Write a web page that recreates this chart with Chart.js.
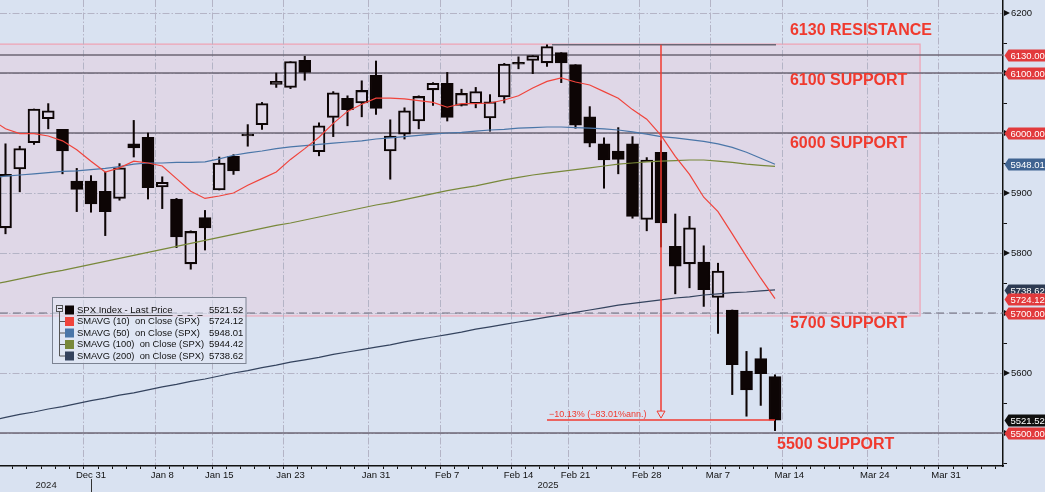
<!DOCTYPE html>
<html>
<head>
<meta charset="utf-8">
<script src="https://cdn.jsdelivr.net/npm/chart.js@4.4.1/dist/chart.umd.min.js"></script>
<style>
    html, body { margin: 0; padding: 0; background: #d9e2f1; overflow: hidden; }
    #wrap { width: 1045px; height: 492px; position: relative; }
</style>
</head>
<body>
<div id="wrap"><canvas id="chart-spx"></canvas></div>
<script>
// SPX daily candles + moving averages (Dec 19 sits just off the left edge)
const DAYS = [
    "Dec 19", "Dec 20", "Dec 23", "Dec 24", "Dec 26", "Dec 27", "Dec 30", "Dec 31",
    "Jan 2", "Jan 3", "Jan 6", "Jan 7", "Jan 8", "Jan 10", "Jan 13", "Jan 14", "Jan 15",
    "Jan 16", "Jan 17", "Jan 21", "Jan 22", "Jan 23", "Jan 24", "Jan 27", "Jan 28",
    "Jan 29", "Jan 30", "Jan 31", "Feb 3", "Feb 4", "Feb 5", "Feb 6", "Feb 7", "Feb 10",
    "Feb 11", "Feb 12", "Feb 13", "Feb 14", "Feb 18", "Feb 19", "Feb 20", "Feb 21",
    "Feb 24", "Feb 25", "Feb 26", "Feb 27", "Feb 28", "Mar 3", "Mar 4", "Mar 5", "Mar 6",
    "Mar 7", "Mar 10", "Mar 11", "Mar 12", "Mar 13", "Mar 14", "Mar 17", "Mar 18",
    "Mar 19", "Mar 20", "Mar 21", "Mar 24", "Mar 25", "Mar 26", "Mar 27", "Mar 28",
    "Mar 31", "Apr 1", "Apr 2", "Apr 3", "Apr 4",
];

const OPEN = [
    5912, 5842, 5940, 5984, 6024, 6006, 5920, 5920, 5903, 5891, 5982, 5993, 5910, 5890,
    5782, 5859, 5905, 5961, 5995, 6014, 6081, 6076, 6121, 5969, 6026, 6058, 6050, 6096,
    5970, 5998, 6020, 6072, 6083, 6046, 6049, 6025, 6060, 6115.5, 6121, 6117, 6134, 6114,
    6027, 5982, 5970, 5982, 5856, 5968, 5811, 5782, 5785, 5726, 5705, 5603, 5624, 5594,
];
const HIGH = [
    5935, 5982, 5978, 6040, 6049, 6006, 5941, 5929, 5935, 5949, 6021, 6000, 5927, 5891,
    5837, 5871, 5960, 5964, 6014, 6051, 6100, 6119, 6128, 6017, 6069, 6062, 6087, 6120,
    6022, 6042, 6062, 6084, 6101, 6073, 6076, 6064, 6116, 6127, 6129, 6147, 6134, 6114,
    6044, 5992, 6009, 5994, 5959, 5987, 5865, 5861, 5812, 5783, 5705, 5636, 5642, 5597,
];
const LOW = [
    5866, 5832, 5902, 5981, 6007, 5932, 5869, 5868, 5829, 5888, 5960, 5890, 5874, 5809,
    5773, 5805, 5905, 5931, 5978, 6006, 6076, 6074, 6088, 5962, 5994, 6012, 6027, 6031,
    5923, 5990, 6007, 6046, 6020, 6045, 6042, 6003, 6050, 6107, 6099, 6111, 6084, 6008,
    5977, 5908, 5932, 5858, 5837, 5810, 5732, 5742, 5711, 5666, 5564, 5528, 5546, 5504,
];
const CLOSE = [
    5867, 5931, 5974, 6040, 6037, 5970, 5906, 5882, 5869, 5942, 5975, 5909, 5918, 5827,
    5836, 5842, 5950, 5937, 5997, 6049, 6086, 6119, 6101, 6012, 6067, 6039, 6071, 6041,
    5995, 6037, 6061, 6083, 6026, 6066, 6069, 6052, 6115, 6114.6, 6129, 6144, 6117, 6013,
    5983, 5955, 5956, 5861, 5955, 5850, 5778, 5842, 5739, 5770, 5614, 5572, 5599, 5521.52,
];

const SMA10 = [
    6023, 6007, 5999, 5999, 5995, 5987, 5972, 5953, 5935, 5942, 5953, 5950, 5945, 5924,
    5903, 5891, 5895, 5900, 5913, 5924, 5935, 5956, 5974, 5993, 6016, 6036, 6048, 6058,
    6058, 6057, 6054, 6051, 6043, 6049, 6049, 6050, 6055, 6062, 6075, 6086, 6092, 6085,
    6080, 6069, 6058, 6039, 6023, 5996, 5961, 5931, 5893, 5869, 5832, 5794, 5758, 5724.12,
];
const SMA50 = [
    5925, 5928, 5930, 5932, 5934, 5936, 5937, 5939, 5941, 5944, 5948, 5950, 5950, 5951,
    5951, 5952, 5957, 5963, 5967, 5970, 5974, 5977, 5979, 5981, 5983, 5985, 5987, 5990,
    5992, 5994, 5996, 5998, 6000, 6001, 6003, 6005, 6006, 6008, 6009, 6010, 6010, 6009,
    6008, 6007, 6005, 6002, 5998, 5994, 5992, 5989, 5986, 5982, 5976, 5968, 5958, 5948.01,
];
const SMA100 = [
    5747, 5752, 5757, 5762, 5767, 5771, 5776, 5781, 5786, 5791, 5796, 5801, 5806, 5811,
    5816, 5821, 5826, 5831, 5836, 5841, 5846, 5850, 5855, 5860, 5865, 5870, 5875, 5880,
    5884, 5889, 5894, 5899, 5904, 5908, 5912, 5917, 5922, 5926, 5930, 5933, 5936, 5939,
    5942, 5945, 5948, 5950, 5952, 5953, 5954, 5955, 5955, 5953, 5951, 5948, 5946, 5944.42,
];
const SMA200 = [
    5521, 5526, 5531, 5535, 5540, 5544, 5549, 5554, 5558, 5563, 5567, 5572, 5577, 5581,
    5586, 5590, 5595, 5600, 5604, 5609, 5613, 5618, 5622, 5626, 5631, 5635, 5639, 5643,
    5647, 5652, 5656, 5660, 5664, 5668, 5673, 5677, 5681, 5685, 5689, 5693, 5697, 5701,
    5705, 5709, 5713, 5716, 5719, 5722, 5725, 5727, 5730, 5732, 5734, 5735, 5737, 5738.62,
];

const X_LABELS = ["Dec 31", "Jan 8", "Jan 15", "Jan 23", "Jan 31", "Feb 7", "Feb 14",
    "Feb 21", "Feb 28", "Mar 7", "Mar 14", "Mar 24", "Mar 31"];
const X_GRID = ["Dec 20"].concat(X_LABELS);

const LEVELS = [6130, 6100, 6000, 5500];
const DASHED_LEVEL = 5700;
const ZONE = [5695, 6148];
const NOTES = ["6130 RESISTANCE", "6100 SUPPORT", "6000 SUPPORT", "5700 SUPPORT", "5500 SUPPORT"];
const NOTE_VALUES = [6170, 6088, 5982, 5683, 5480];
const MOVE_TEXT = "\u221210.13% (\u221283.01%ann.)";

const BLACK = "#0d0505";
const RED = "#f0443c";
const BLUE = "#4a76a8";
const OLIVE = "#78883a";
const NAVY = "#34435e";
const NOTE_RED = "#f03a2e";
const FONT = "'Liberation Sans', Arial, sans-serif";

const last = a => a[a.length - 1];
const xy = arr => arr.map((v, i) => ({ x: i, y: v }));

const TAGS = [
    [6130, "#e23a3c"], [6100, "#e23a3c"], [6000, "#e23a3c"],
    [last(SMA50), "#3f6391"], [last(SMA200), "#2d3a52"], [last(SMA10), "#e23a3c"],
    [DASHED_LEVEL, "#e23a3c"], [last(CLOSE), "#101010"], [5500, "#e23a3c"],
];

const LEGEND_ROWS = [
    ["SPX Index - Last Price", last(CLOSE), BLACK],
    ["SMAVG (10)  on Close (SPX)", last(SMA10), RED],
    ["SMAVG (50)  on Close (SPX)", last(SMA50), BLUE],
    ["SMAVG (100)  on Close (SPX)", last(SMA100), OLIVE],
    ["SMAVG (200)  on Close (SPX)", last(SMA200), NAVY],
];

const bodies = CLOSE.map((c, i) => ({ x: i, y: [Math.min(OPEN[i], c), Math.max(OPEN[i], c)] }));
const upperWicks = CLOSE.map((c, i) => ({ x: i, y: [Math.max(OPEN[i], c), HIGH[i]] }));
const lowerWicks = CLOSE.map((c, i) => ({ x: i, y: [LOW[i], Math.min(OPEN[i], c)] }));
const bodyFill = CLOSE.map((c, i) => (c < OPEN[i] ? BLACK : "rgba(0,0,0,0)"));

function hLine(ctx, x1, x2, y, color, width, dash) {
    ctx.save();
    ctx.strokeStyle = color;
    ctx.lineWidth = width;
    ctx.setLineDash(dash || []);
    ctx.beginPath();
    ctx.moveTo(x1, y);
    ctx.lineTo(x2, y);
    ctx.stroke();
    ctx.restore();
}

const decor = {
    id: "decor",
    beforeDraw(chart) {
        const { ctx, chartArea: a, scales: { x, y } } = chart;
        ctx.save();
        ctx.fillStyle = "#d9e2f1";
        ctx.fillRect(0, 0, chart.width, chart.height);
        // pink zone
        const zr = x.getPixelForValue(65.18);
        const zt = y.getPixelForValue(ZONE[1]);
        const zb = y.getPixelForValue(ZONE[0]);
        ctx.fillStyle = "#dfd7e7";
        ctx.fillRect(a.left, zt, zr - a.left, zb - zt);
        ctx.strokeStyle = "#f0a2b4";
        ctx.lineWidth = 1.2;
        ctx.beginPath();
        ctx.moveTo(a.left, zt);
        ctx.lineTo(zr, zt);
        ctx.lineTo(zr, zb);
        ctx.lineTo(a.left, zb);
        ctx.stroke();
        ctx.restore();
    },
    beforeDatasetsDraw(chart) {
        const { ctx, chartArea: a, scales: { y } } = chart;
        LEVELS.forEach(v => hLine(ctx, a.left, a.right, y.getPixelForValue(v), "#6c6674", 1.5));
        hLine(ctx, a.left, a.right, y.getPixelForValue(DASHED_LEVEL), "#707080", 1.2, [8, 5]);
    },
    afterDatasetsDraw(chart) {
        const { ctx, scales: { x, y } } = chart;
        // -10% move measure
        const i1 = 39, i2 = CLOSE.length - 1;
        const xl = x.getPixelForValue(i1), xr = x.getPixelForValue(i2);
        const xm = x.getPixelForValue((i1 + i2) / 2);
        const yt = y.getPixelForValue(HIGH[i1]);
        const yb = y.getPixelForValue(last(CLOSE));
        hLine(ctx, xl + 5, xr + 1, yt, "#6c6674", 1.5);
        hLine(ctx, xl, xr, yb, "#f03a30", 1.5);
        ctx.save();
        ctx.strokeStyle = "#f03a30";
        ctx.lineWidth = 1.5;
        ctx.beginPath();
        ctx.moveTo(xm, yt);
        ctx.lineTo(xm, yb - 9);
        ctx.stroke();
        ctx.lineWidth = 1;
        ctx.beginPath();
        ctx.moveTo(xm - 4, yb - 9);
        ctx.lineTo(xm + 4, yb - 9);
        ctx.lineTo(xm, yb - 2);
        ctx.closePath();
        ctx.stroke();
        ctx.fillStyle = "#f03a30";
        ctx.font = "9px " + FONT;
        ctx.textBaseline = "bottom";
        ctx.fillText(MOVE_TEXT, xl + 2, yb - 1);
        // level notes
        ctx.fillStyle = NOTE_RED;
        ctx.font = "bold 16px " + FONT;
        ctx.textBaseline = "middle";
        NOTES.forEach((t, k) => {
            const xi = k === NOTES.length - 1 ? 55.14 : 56.05;
            ctx.fillText(t, x.getPixelForValue(xi), y.getPixelForValue(NOTE_VALUES[k]));
        });
        ctx.restore();
    },
    afterDraw(chart) {
        const { ctx, chartArea: a, scales: { x, y } } = chart;
        ctx.save();
        // arrows on the price axis
        ctx.fillStyle = "#111";
        y.ticks.forEach(t => {
            if (t.value % 100 !== 0) return;
            const py = y.getPixelForValue(t.value);
            ctx.beginPath();
            ctx.moveTo(a.right + 1, py - 3);
            ctx.lineTo(a.right + 7, py);
            ctx.lineTo(a.right + 1, py + 3);
            ctx.closePath();
            ctx.fill();
        });
        // value tags
        ctx.font = "9.5px " + FONT;
        ctx.textBaseline = "middle";
        TAGS.forEach(([v, col]) => {
            const py = Math.round(y.getPixelForValue(v)) + 0.5;
            const x0 = a.right + 1.5;
            ctx.fillStyle = col;
            ctx.beginPath();
            ctx.moveTo(x0, py);
            ctx.lineTo(x0 + 4, py - 6);
            ctx.lineTo(chart.width, py - 6);
            ctx.lineTo(chart.width, py + 6);
            ctx.lineTo(x0 + 4, py + 6);
            ctx.closePath();
            ctx.fill();
            ctx.fillStyle = "#ffffff";
            ctx.fillText(v.toFixed(2), x0 + 6, py + 0.5);
        });
        // year row
        ctx.fillStyle = "#222";
        ctx.textAlign = "center";
        ctx.textBaseline = "middle";
        ctx.fillText("2024", x.getPixelForValue(3.85), 485);
        ctx.fillText("2025", x.getPixelForValue(39.07), 485);
        ctx.strokeStyle = "#333";
        ctx.lineWidth = 1;
        const sx = Math.round(x.getPixelForValue(DAYS.indexOf("Dec 31"))) + 0.5;
        ctx.beginPath();
        ctx.moveTo(sx, 479);
        ctx.lineTo(sx, 492);
        ctx.stroke();
        // legend box
        ctx.textAlign = "left";
        ctx.fillStyle = "rgba(228,234,245,0.55)";
        ctx.fillRect(52.5, 297.5, 193.5, 66);
        ctx.strokeStyle = "#7c8392";
        ctx.strokeRect(52.5, 297.5, 193.5, 66);
        ctx.strokeStyle = "#555";
        ctx.strokeRect(56.5, 305.5, 6, 6);
        hLine(ctx, 58, 62, 308.5, "#333", 1);
        ctx.beginPath();
        ctx.moveTo(59.5, 312);
        ctx.lineTo(59.5, 356);
        ctx.stroke();
        ctx.font = "9.5px " + FONT;
        LEGEND_ROWS.forEach(([name, val, col], k) => {
            const ry = 310 + k * 11.5;
            if (k > 0) hLine(ctx, 59.5, 65, ry, "#555", 1);
            ctx.fillStyle = col;
            ctx.fillRect(65, ry - 4.5, 9, 9);
            ctx.fillStyle = "#111";
            const maxW = k === 0 ? 100 : (k > 2 ? 127 : 123);
            ctx.fillText(name, 77, ry, maxW);
            ctx.fillText(val.toFixed(2), 209, ry);
            if (k === 0) {
                const w = Math.min(ctx.measureText(name).width, maxW);
                hLine(ctx, 77, 77 + w, ry + 5.5, "#222", 0.8);
                hLine(ctx, 82 + w, 205, ry + 5.5, "#222", 0.8, [5, 5]);
            }
        });
        ctx.restore();
    },
};

let chartSpx = null;

function crearChartSpx() {
    const ctx = document.getElementById("chart-spx").getContext("2d");
    if (chartSpx) chartSpx.destroy();

    chartSpx = new Chart(ctx, {
        type: "bar",
        data: {
            datasets: [
                { type: "line", label: "SMAVG (10)", data: xy(SMA10), borderColor: RED, borderWidth: 1.2, pointRadius: 0 },
                { type: "line", label: "SMAVG (50)", data: xy(SMA50), borderColor: BLUE, borderWidth: 1.2, pointRadius: 0 },
                { type: "line", label: "SMAVG (100)", data: xy(SMA100), borderColor: OLIVE, borderWidth: 1.2, pointRadius: 0 },
                { type: "line", label: "SMAVG (200)", data: xy(SMA200), borderColor: NAVY, borderWidth: 1.2, pointRadius: 0 },
                {
                    label: "body", data: bodies, backgroundColor: bodyFill, borderColor: BLACK,
                    borderWidth: 1.4, borderSkipped: false, barThickness: 12, minBarLength: 2, grouped: false,
                },
                { label: "hi", data: upperWicks, backgroundColor: BLACK, barThickness: 1.4, grouped: false },
                { label: "lo", data: lowerWicks, backgroundColor: BLACK, barThickness: 1.4, grouped: false },
            ],
        },
        options: {
            responsive: true,
            maintainAspectRatio: false,
            animation: false,
            events: [],
            layout: { padding: 0 },
            plugins: {
                legend: { display: false },
                tooltip: { enabled: false },
            },
            scales: {
                x: {
                    type: "linear",
                    min: 0.614,
                    max: 71.0,
                    offset: false,
                    afterFit: s => { s.height = 26; s.paddingLeft = 0; s.paddingRight = 0; },
                    ticks: {
                        stepSize: 1, autoSkip: false, maxRotation: 0, minRotation: 0,
                        includeBounds: false, padding: 1, color: "#111",
                        font: { family: FONT, size: 9.5 },
                        callback: v => {
                            const d = DAYS[Math.round(v)];
                            return X_LABELS.includes(d) ? d : "";
                        },
                    },
                    grid: {
                        color: c => (c.tick && X_GRID.includes(DAYS[Math.round(c.tick.value)]) ? "#b4b4c6" : "rgba(0,0,0,0)"),
                        tickColor: "#111",
                        tickLength: 3,
                    },
                    border: { color: "#111", width: 1.5, dash: [7, 2, 1.5, 2] },
                },
                y: {
                    type: "linear",
                    position: "right",
                    min: 5445,
                    max: 6221.7,
                    afterFit: s => { s.width = 42; s.paddingTop = 0; s.paddingBottom = 0; },
                    ticks: {
                        stepSize: 50, includeBounds: false, padding: 4, color: "#111",
                        font: { family: FONT, size: 9.5 },
                        callback: v => (v % 100 === 0 ? String(v) : ""),
                    },
                    grid: {
                        color: c => (c.tick && c.tick.value % 100 === 0 ? "#b4b4c6" : "rgba(0,0,0,0)"),
                        tickColor: c => (c.tick && c.tick.value % 100 === 0 ? "rgba(0,0,0,0)" : "#111"),
                        tickLength: 4,
                    },
                    border: { color: "#111", width: 1.5, dash: [7, 2, 1.5, 2] },
                },
            },
        },
        plugins: [decor],
    });
}

crearChartSpx();
</script>
</body>
</html>
